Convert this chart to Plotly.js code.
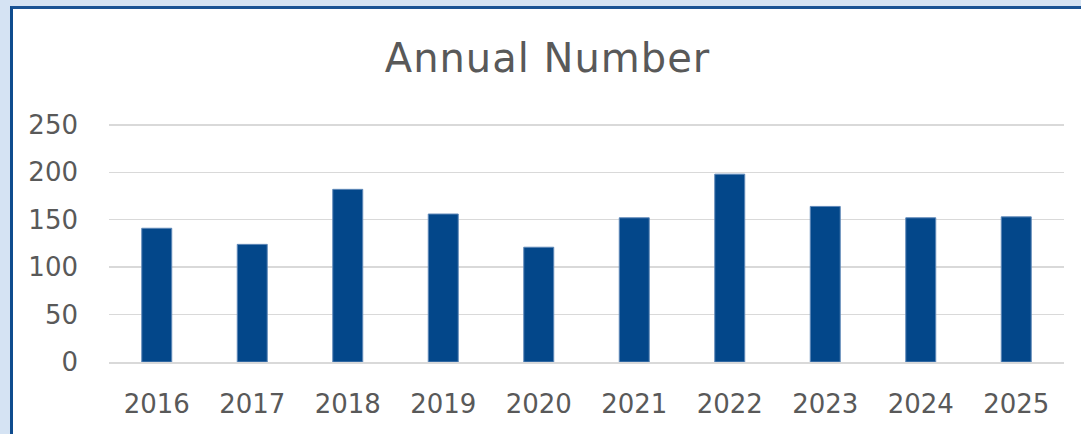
<!DOCTYPE html>
<html>
<head>
<meta charset="utf-8">
<script src="https://cdn.plot.ly/plotly-3.0.1.min.js"></script>
<style>
  html, body { margin: 0; padding: 0; width: 1081px; height: 434px; overflow: hidden; background: #d5e3f3; }
  #panel { position: absolute; left: 10px; top: 6px; width: 1200px; height: 600px; background: #ffffff;
           border-left: 3px solid #0f4c8e; border-top: 3px solid #1a5394; }
  #chart { position: absolute; left: 0; top: 0; width: 1081px; height: 434px; }
  #chart .gtitle { letter-spacing: 1px; }
</style>
</head>
<body>
<div id="panel"></div>
<div id="chart"></div>
<script>
const years = ["2016", "2017", "2018", "2019", "2020", "2021", "2022", "2023", "2024", "2025"];
const counts = [141, 124, 182, 156, 121, 152, 198, 164, 152, 153];
const yTicks = [0, 50, 100, 150, 200, 250];
const chartTitle = "Annual Number";

const fontFam = "DejaVu Sans, Liberation Sans, sans-serif";

Plotly.newPlot("chart", [{
  type: "bar",
  x: years,
  y: counts,
  marker: { color: "#03478a", line: { color: "#5f88b8", width: 1 } },
  hoverinfo: "x+y"
}], {
  width: 1081,
  height: 434,
  paper_bgcolor: "rgba(0,0,0,0)",
  plot_bgcolor: "rgba(0,0,0,0)",
  margin: { l: 109, r: 17, t: 121.85, b: 71.7, pad: 0 },
  bargap: 0.686,
  showlegend: false,
  title: {
    text: chartTitle,
    font: { family: fontFam, size: 40, color: "#595959" },
    x: 0.5065, xanchor: "center", xref: "container",
    y: 0.866, yanchor: "middle", yref: "container"
  },
  xaxis: {
    type: "category",
    showgrid: false,
    showline: true,
    linecolor: "#d9d9d9",
    linewidth: 1.5,
    ticks: "",
    ticklabelstandoff: 18,
    tickfont: { family: fontFam, size: 26, color: "#595959" },
    fixedrange: true
  },
  yaxis: {
    range: [0, 253],
    tickvals: yTicks,
    ticktext: yTicks.map(String),
    showgrid: true,
    gridcolor: "#d9d9d9",
    gridwidth: 1.5,
    zeroline: false,
    showline: false,
    ticks: "",
    ticklabelstandoff: 30,
    tickfont: { family: fontFam, size: 26, color: "#595959" },
    fixedrange: true
  }
}, { displayModeBar: false, staticPlot: true });
</script>
</body>
</html>
